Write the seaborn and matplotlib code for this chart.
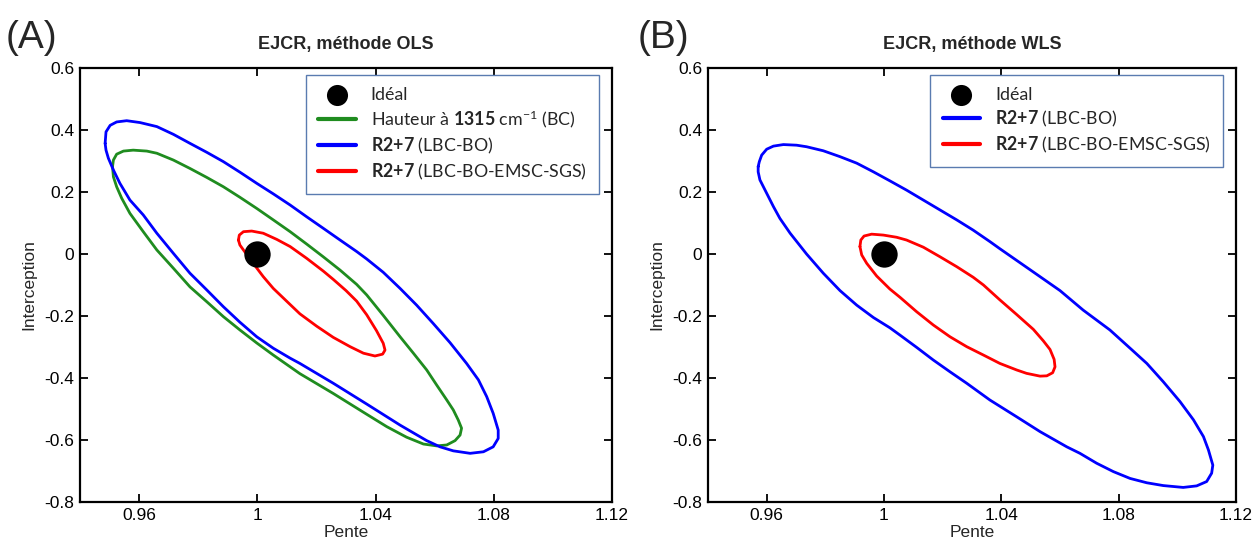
import numpy as np
import pandas as pd
import matplotlib
matplotlib.use("Agg")
import matplotlib.pyplot as plt
import seaborn as sns

# ---------------- data ----------------
# Panel A (OLS) -- blue: R2+7 (LBC-BO)
a_blue_x = [0.9485, 0.9488, 0.9502, 0.9524, 0.9558, 0.9603, 0.9660, 0.9716, 0.9772, 0.9829,
            0.9885, 0.9941, 0.9998, 1.0054, 1.0111, 1.0167, 1.0223, 1.0280, 1.0336, 1.0370,
            1.0426, 1.0483, 1.0539, 1.0595, 1.0652, 1.0708, 1.0748, 1.0776, 1.0798, 1.0815,
            1.0815, 1.0798, 1.0765, 1.0720, 1.0663, 1.0618, 1.0573, 1.0483, 1.0370, 1.0257,
            1.0144, 1.0111, 1.0054, 0.9998, 0.9941, 0.9885, 0.9829, 0.9772, 0.9716, 0.9660,
            0.9614, 0.9569, 0.9535, 0.9513, 0.9496, 0.9488, 0.9485]
a_blue_y = [0.357, 0.394, 0.415, 0.426, 0.430, 0.424, 0.411, 0.386, 0.357, 0.328,
            0.298, 0.264, 0.228, 0.194, 0.158, 0.120, 0.083, 0.045, 0.008, -0.016,
            -0.059, -0.111, -0.165, -0.224, -0.286, -0.353, -0.406, -0.460, -0.514, -0.568,
            -0.595, -0.622, -0.638, -0.643, -0.635, -0.622, -0.602, -0.552, -0.484, -0.417,
            -0.353, -0.336, -0.304, -0.267, -0.220, -0.170, -0.116, -0.062, 0.002, 0.067,
            0.126, 0.174, 0.228, 0.271, 0.309, 0.335, 0.357]

# Panel A -- green: Hauteur à 1315 cm-1 (BC)
a_green_x = [0.9510, 0.9513, 0.9524, 0.9547, 0.9580, 0.9626, 0.9660, 0.9716, 0.9772, 0.9829,
             0.9885, 0.9941, 0.9998, 1.0054, 1.0111, 1.0167, 1.0223, 1.0280, 1.0336, 1.0370,
             1.0426, 1.0483, 1.0528, 1.0573, 1.0607, 1.0641, 1.0663, 1.0680, 1.0691, 1.0686,
             1.0669, 1.0641, 1.0607, 1.0562, 1.0505, 1.0438, 1.0370, 1.0257, 1.0144, 1.0054,
             0.9998, 0.9941, 0.9885, 0.9829, 0.9772, 0.9716, 0.9660, 0.9614, 0.9569, 0.9541,
             0.9524, 0.9513, 0.9510]
a_green_y = [0.282, 0.303, 0.322, 0.332, 0.335, 0.332, 0.325, 0.303, 0.276, 0.247,
             0.217, 0.183, 0.147, 0.110, 0.072, 0.032, -0.009, -0.052, -0.098, -0.132,
             -0.198, -0.267, -0.320, -0.374, -0.423, -0.471, -0.503, -0.536, -0.562, -0.584,
             -0.602, -0.616, -0.619, -0.613, -0.591, -0.557, -0.517, -0.450, -0.386, -0.326,
             -0.287, -0.245, -0.202, -0.154, -0.106, -0.046, 0.013, 0.072, 0.131, 0.180,
             0.217, 0.249, 0.282]

# Panel A -- red: R2+7 (LBC-BO-EMSC-SGS)
a_red_x = [0.9936, 0.9939, 0.9953, 0.9981, 1.0020, 1.0066, 1.0111, 1.0167, 1.0223, 1.0257,
           1.0300, 1.0336, 1.0370, 1.0403, 1.0426, 1.0432, 1.0424, 1.0398, 1.0359, 1.0314,
           1.0257, 1.0201, 1.0144, 1.0111, 1.0054, 1.0020, 0.9986, 0.9953, 0.9941, 0.9936]
a_red_y = [0.045, 0.061, 0.072, 0.074, 0.067, 0.047, 0.024, -0.014, -0.055, -0.082,
           -0.118, -0.152, -0.196, -0.247, -0.288, -0.310, -0.323, -0.329, -0.320, -0.299,
           -0.269, -0.233, -0.193, -0.163, -0.111, -0.073, -0.030, 0.013, 0.029, 0.045]

# Panel B (WLS) -- blue: R2+7 (LBC-BO)
b_blue_x = [0.9571, 0.9575, 0.9583, 0.9600, 0.9623, 0.9657, 0.9702, 0.9736, 0.9793, 0.9850,
            0.9907, 0.9964, 1.0020, 1.0077, 1.0134, 1.0191, 1.0248, 1.0304, 1.0361, 1.0395,
            1.0509, 1.0600, 1.0679, 1.0770, 1.0839, 1.0896, 1.0952, 1.1009, 1.1055, 1.1089,
            1.1106, 1.1121, 1.1117, 1.1100, 1.1066, 1.1020, 1.0952, 1.0896, 1.0839, 1.0782,
            1.0725, 1.0668, 1.0623, 1.0532, 1.0452, 1.0361, 1.0282, 1.0225, 1.0168, 1.0111,
            1.0055, 1.0020, 0.9964, 0.9907, 0.9850, 0.9793, 0.9736, 0.9680, 0.9645, 0.9623,
            0.9600, 0.9577, 0.9571, 0.9571]
b_blue_y = [0.282, 0.298, 0.319, 0.338, 0.348, 0.353, 0.351, 0.346, 0.333, 0.314,
            0.293, 0.265, 0.236, 0.206, 0.174, 0.142, 0.110, 0.077, 0.040, 0.017,
            -0.058, -0.118, -0.181, -0.245, -0.304, -0.353, -0.412, -0.476, -0.535, -0.589,
            -0.632, -0.681, -0.707, -0.734, -0.748, -0.753, -0.747, -0.738, -0.724, -0.702,
            -0.675, -0.643, -0.622, -0.573, -0.525, -0.471, -0.417, -0.380, -0.342, -0.301,
            -0.262, -0.238, -0.205, -0.165, -0.118, -0.062, 0.000, 0.067, 0.115, 0.153,
            0.196, 0.239, 0.265, 0.282]

# Panel B -- red: R2+7 (LBC-BO-EMSC-SGS)
b_red_x = [0.9918, 0.9921, 0.9932, 0.9958, 0.9998, 1.0043, 1.0077, 1.0134, 1.0191, 1.0248,
           1.0304, 1.0339, 1.0395, 1.0452, 1.0509, 1.0543, 1.0566, 1.0580, 1.0583, 1.0575,
           1.0555, 1.0532, 1.0486, 1.0452, 1.0395, 1.0339, 1.0282, 1.0225, 1.0168, 1.0111,
           1.0055, 1.0020, 0.9975, 0.9941, 0.9924, 0.9918]
b_red_y = [0.024, 0.045, 0.058, 0.064, 0.061, 0.054, 0.045, 0.022, -0.009, -0.041,
           -0.075, -0.100, -0.148, -0.195, -0.243, -0.280, -0.308, -0.340, -0.364, -0.383,
           -0.393, -0.394, -0.385, -0.374, -0.353, -0.326, -0.299, -0.267, -0.229, -0.186,
           -0.140, -0.113, -0.071, -0.030, -0.003, 0.024]

ideal_x = [1.0]
ideal_y = [0.0]

x_ticks = [0.96, 1.0, 1.04, 1.08, 1.12]
x_ticklabels = ["0.96", "1", "1.04", "1.08", "1.12"]
y_ticks = [0.6, 0.4, 0.2, 0.0, -0.2, -0.4, -0.6, -0.8]
y_ticklabels = ["0.6", "0.4", "0.2", "0", "-0.2", "-0.4", "-0.6", "-0.8"]

lab_ideal = "Idéal"
lab_green = r"Hauteur à $\mathbf{1315}$ cm$^{\mathrm{-1}}$ (BC)"
lab_blue = r"$\mathbf{R2{+}7}$ (LBC-BO)"
lab_red = r"$\mathbf{R2{+}7}$ (LBC-BO-EMSC-SGS)"

titles = ["EJCR, méthode OLS", "EJCR, méthode WLS"]
panel_labels = ["(A)", "(B)"]

# ---------------- styling ----------------
sns.set_style("white")
plt.rcParams["font.family"] = ["Liberation Sans", "DejaVu Sans"]
plt.rcParams["mathtext.fontset"] = "custom"
plt.rcParams["mathtext.rm"] = "Lato"
plt.rcParams["mathtext.bf"] = "Lato:bold"
plt.rcParams["mathtext.it"] = "Lato:italic"

GREEN = "#1f8c1f"
BLUE = "#0000ff"
RED = "#ff0000"

fig = plt.figure(figsize=(12.56, 5.44), dpi=100)
axA = fig.add_axes([80 / 1256, 1 - 502 / 544, 532 / 1256, 434 / 544])
axB = fig.add_axes([708 / 1256, 1 - 502 / 544, 528 / 1256, 434 / 544])


def draw_curve(ax, xs, ys, color, label):
    df = pd.DataFrame({"x": xs, "y": ys})
    sns.lineplot(data=df, x="x", y="y", sort=False, estimator=None, color=color,
                 lw=2, ax=ax, label=label)


def draw_ideal(ax):
    df = pd.DataFrame({"x": ideal_x, "y": ideal_y})
    sns.scatterplot(data=df, x="x", y="y", color="black", s=360, ax=ax,
                    label=lab_ideal, edgecolor="black", linewidth=0, zorder=5)


draw_curve(axA, a_green_x, a_green_y, GREEN, lab_green)
draw_curve(axA, a_blue_x, a_blue_y, BLUE, lab_blue)
draw_curve(axA, a_red_x, a_red_y, RED, lab_red)
draw_ideal(axA)

draw_curve(axB, b_blue_x, b_blue_y, BLUE, lab_blue)
draw_curve(axB, b_red_x, b_red_y, RED, lab_red)
draw_ideal(axB)

for i, ax in enumerate([axA, axB]):
    ax.set_xlim(0.94, 1.12)
    ax.set_ylim(-0.8, 0.6)
    ax.set_xticks(x_ticks)
    ax.set_xticklabels(x_ticklabels)
    ax.set_yticks(y_ticks)
    ax.set_yticklabels(y_ticklabels)
    ax.tick_params(direction="in", length=6, width=1.3, labelsize=12.5,
                   top=True, right=True, bottom=True, left=True, colors="black",
                   pad=4)
    for sp in ax.spines.values():
        sp.set_visible(True)
        sp.set_color("black")
        sp.set_linewidth(1.6)
    ax.set_xlabel("Pente", fontsize=12.5, labelpad=2)
    ax.set_ylabel("Interception", fontsize=12.5, labelpad=6)
    ax.set_title(titles[i], fontsize=13, fontweight="bold", pad=14)

    handles, labels = ax.get_legend_handles_labels()
    order = [labels.index(lab_ideal)] + [k for k, l in enumerate(labels) if l != lab_ideal]
    leg = ax.legend([handles[k] for k in order], [labels[k] for k in order],
                    loc="upper right", bbox_to_anchor=(0.976, 0.985), borderaxespad=0,
                    frameon=True, fancybox=False, framealpha=1, edgecolor="#5a7bb0",
                    prop={"family": "Lato", "size": 12.8}, handlelength=2.1,
                    handletextpad=0.85, labelspacing=0.32, borderpad=0.7,
                    markerscale=0.8)
    leg.get_frame().set_linewidth(1.0)
    for h in leg.legend_handles:
        if hasattr(h, "set_linewidth") and not hasattr(h, "get_offsets"):
            h.set_linewidth(3)

fig.text(6 / 1256, 1 - 38 / 544, panel_labels[0], fontsize=28, va="center", ha="left")
fig.text(638 / 1256, 1 - 38 / 544, panel_labels[1], fontsize=28, va="center", ha="left")

fig.savefig("out.png", dpi=100, facecolor="white")
